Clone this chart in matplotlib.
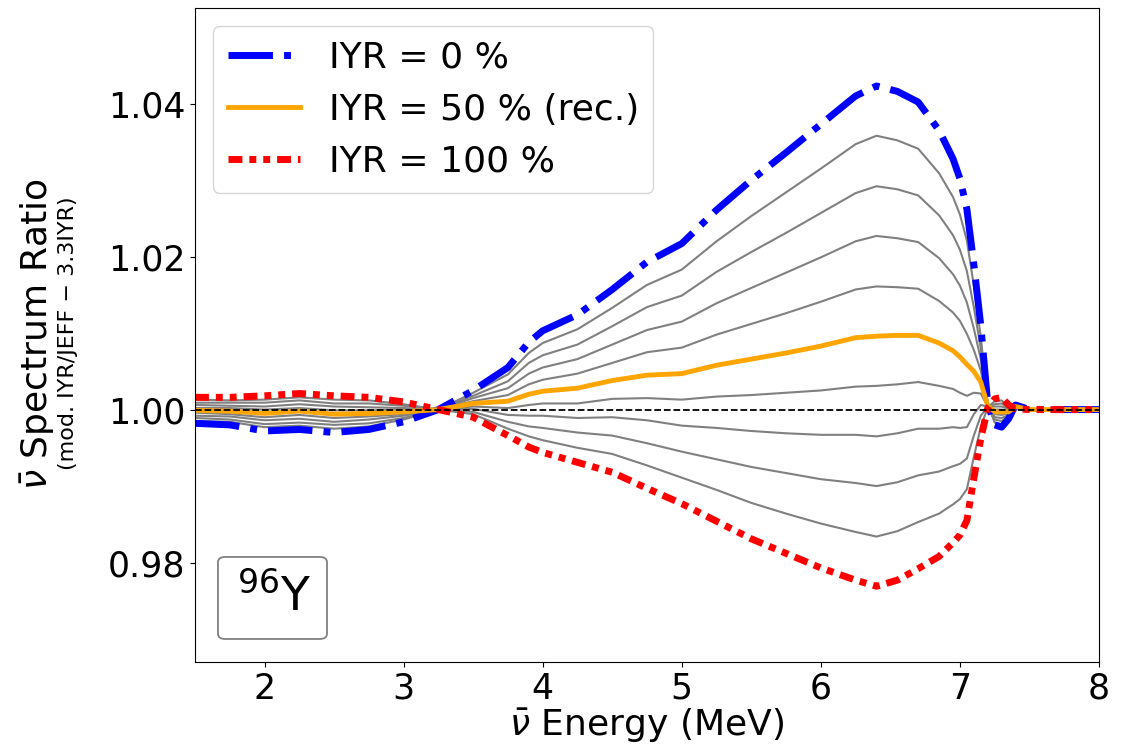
import numpy as np
import matplotlib
matplotlib.use('Agg')
import matplotlib.pyplot as plt
from matplotlib.patches import FancyBboxPatch

# antineutrino energy grid (MeV)
energy = [1.5, 1.75, 2.0, 2.25, 2.5, 2.75, 3.0, 3.25, 3.5, 3.75, 3.9, 4.0, 4.25, 4.5, 4.75,
          5.0, 5.25, 5.5, 5.75, 6.0, 6.25, 6.4, 6.55, 6.7, 6.85, 6.95, 7.0, 7.05, 7.1, 7.15,
          7.2, 7.25, 7.3, 7.35, 7.4, 7.5, 8.0]

# spectrum ratio for each isomeric yield ratio (IYR)
ratio_iyr_0 = [0.9982, 0.9980, 0.9972, 0.9974, 0.9970, 0.9974, 0.9984, 1.0000, 1.0025, 1.0055,
               1.0088, 1.0103, 1.0124, 1.0157, 1.0193, 1.0217, 1.0261, 1.0300, 1.0336, 1.0373,
               1.0410, 1.0423, 1.0416, 1.0402, 1.0365, 1.0328, 1.0302, 1.0262, 1.0190, 1.0110,
               1.0008, 0.9980, 0.9977, 0.9988, 1.0006, 1.0000, 1.0000]
ratio_iyr_10 = [0.9985, 0.9984, 0.9977, 0.9979, 0.9975, 0.9978, 0.9987, 1.0000, 1.0022, 1.0046,
                1.0074, 1.0087, 1.0105, 1.0133, 1.0163, 1.0183, 1.0220, 1.0253, 1.0284, 1.0315,
                1.0347, 1.0358, 1.0352, 1.0341, 1.0309, 1.0278, 1.0255, 1.0221, 1.0162, 1.0095,
                1.0007, 0.9983, 0.9981, 0.9990, 1.0006, 1.0000, 1.0000]
ratio_iyr_20 = [0.9989, 0.9987, 0.9981, 0.9983, 0.9980, 0.9982, 0.9989, 1.0000, 1.0018, 1.0037,
                1.0061, 1.0071, 1.0085, 1.0109, 1.0134, 1.0149, 1.0180, 1.0206, 1.0231, 1.0257,
                1.0283, 1.0292, 1.0288, 1.0280, 1.0254, 1.0228, 1.0209, 1.0181, 1.0134, 1.0080,
                1.0007, 0.9987, 0.9985, 0.9992, 1.0005, 1.0000, 1.0000]
ratio_iyr_30 = [0.9992, 0.9991, 0.9986, 0.9988, 0.9984, 0.9987, 0.9992, 1.0000, 1.0015, 1.0028,
                1.0047, 1.0055, 1.0066, 1.0085, 1.0104, 1.0115, 1.0139, 1.0159, 1.0179, 1.0199,
                1.0220, 1.0227, 1.0224, 1.0219, 1.0198, 1.0177, 1.0162, 1.0140, 1.0106, 1.0066,
                1.0006, 0.9990, 0.9989, 0.9993, 1.0005, 1.0000, 1.0000]
ratio_iyr_40 = [0.9996, 0.9994, 0.9990, 0.9993, 0.9989, 0.9991, 0.9994, 1.0000, 1.0011, 1.0019,
                1.0033, 1.0039, 1.0047, 1.0061, 1.0075, 1.0081, 1.0098, 1.0112, 1.0126, 1.0141,
                1.0157, 1.0161, 1.0160, 1.0158, 1.0142, 1.0127, 1.0116, 1.0099, 1.0078, 1.0051,
                1.0006, 0.9994, 0.9993, 0.9995, 1.0004, 1.0000, 1.0000]
ratio_iyr_50 = [0.9999, 0.9998, 0.9995, 0.9998, 0.9994, 0.9995, 0.9997, 1.0000, 1.0008, 1.0011,
                1.0020, 1.0024, 1.0028, 1.0038, 1.0045, 1.0047, 1.0058, 1.0066, 1.0074, 1.0083,
                1.0094, 1.0096, 1.0097, 1.0097, 1.0087, 1.0077, 1.0069, 1.0059, 1.0050, 1.0036,
                1.0005, 0.9997, 0.9997, 0.9997, 1.0004, 1.0000, 1.0000]
ratio_iyr_60 = [1.0002, 1.0002, 1.0000, 1.0002, 0.9999, 0.9999, 1.0000, 1.0000, 1.0004, 1.0002,
                1.0006, 1.0008, 1.0008, 1.0014, 1.0015, 1.0013, 1.0017, 1.0019, 1.0022, 1.0025,
                1.0030, 1.0031, 1.0033, 1.0036, 1.0031, 1.0027, 1.0022, 1.0018, 1.0022, 1.0021,
                1.0004, 1.0000, 1.0000, 0.9999, 1.0003, 1.0000, 1.0000]
ratio_iyr_70 = [1.0006, 1.0005, 1.0004, 1.0007, 1.0004, 1.0003, 1.0002, 1.0000, 1.0001, 0.9993,
                0.9992, 0.9992, 0.9989, 0.9990, 0.9986, 0.9979, 0.9976, 0.9972, 0.9969, 0.9967,
                0.9967, 0.9965, 0.9969, 0.9975, 0.9975, 0.9977, 0.9976, 0.9977, 0.9994, 1.0006,
                1.0004, 1.0004, 1.0004, 1.0001, 1.0003, 1.0000, 1.0000]
ratio_iyr_80 = [1.0009, 1.0009, 1.0009, 1.0012, 1.0008, 1.0008, 1.0005, 1.0000, 0.9997, 0.9984,
                0.9978, 0.9976, 0.9970, 0.9966, 0.9956, 0.9945, 0.9935, 0.9925, 0.9917, 0.9909,
                0.9904, 0.9900, 0.9905, 0.9914, 0.9919, 0.9926, 0.9929, 0.9936, 0.9966, 0.9992,
                1.0003, 1.0007, 1.0008, 1.0002, 1.0002, 1.0000, 1.0000]
ratio_iyr_90 = [1.0013, 1.0012, 1.0013, 1.0016, 1.0013, 1.0012, 1.0007, 1.0000, 0.9994, 0.9975,
                0.9965, 0.9960, 0.9950, 0.9942, 0.9927, 0.9911, 0.9895, 0.9878, 0.9864, 0.9851,
                0.9840, 0.9834, 0.9841, 0.9853, 0.9864, 0.9876, 0.9883, 0.9896, 0.9938, 0.9977,
                1.0003, 1.0011, 1.0012, 1.0004, 1.0002, 1.0000, 1.0000]
ratio_iyr_100 = [1.0016, 1.0016, 1.0018, 1.0021, 1.0018, 1.0016, 1.0010, 1.0000, 0.9990, 0.9966,
                 0.9951, 0.9944, 0.9931, 0.9918, 0.9897, 0.9877, 0.9854, 0.9831, 0.9812, 0.9793,
                 0.9777, 0.9769, 0.9777, 0.9792, 0.9808, 0.9826, 0.9836, 0.9855, 0.9910, 0.9962,
                 1.0002, 1.0014, 1.0016, 1.0006, 1.0001, 1.0000, 1.0000]

gray_curves = [ratio_iyr_10, ratio_iyr_20, ratio_iyr_30, ratio_iyr_40,
               ratio_iyr_60, ratio_iyr_70, ratio_iyr_80, ratio_iyr_90]

x_ticks = [2, 3, 4, 5, 6, 7, 8]
y_ticks = [0.98, 1.00, 1.02, 1.04]

fig = plt.figure(figsize=(11.3, 7.46), dpi=100)
ax = fig.add_axes([195 / 1130, 1 - 662 / 746, 904 / 1130, 654 / 746])

for curve in gray_curves:
    ax.plot(energy, curve, color='gray', lw=1.5)

ax.plot(energy, ratio_iyr_0, color='blue', ls='-.', lw=5, label='IYR = 0 %')
ax.plot(energy, ratio_iyr_50, color='orange', lw=3.5, label='IYR = 50 % (rec.)')
ax.plot(energy, ratio_iyr_100, color='red', lw=5, dashes=(2, 1, 1, 1, 1, 1), label='IYR = 100 %')
ax.axhline(1.0, color='k', ls='--', lw=1.3)

ax.set_xlim(1.5, 8)
ax.set_ylim(0.967, 1.0525)
ax.set_xticks(x_ticks)
ax.set_yticks(y_ticks)
ax.set_yticklabels(['%.2f' % t for t in y_ticks])
ax.tick_params(labelsize=25)

ax.set_xlabel(r'$\bar{\nu}$ Energy (MeV)', fontsize=26, labelpad=1)
fig.text(38 / 1130, 1 - 334 / 746, r'$\bar{\nu}$ Spectrum Ratio', rotation=90,
         fontsize=26, ha='center', va='center')
fig.text(68 / 1130, 1 - 333 / 746, '(mod. IYR/JEFF \u2212 3.3IYR)', rotation=90,
         fontsize=16, ha='center', va='center')

ax.legend(loc='upper left', fontsize=26, handlelength=2.0)

# nuclide label box
ax.add_patch(FancyBboxPatch((0.0254, 0.0352), 0.1206, 0.1254, transform=ax.transAxes,
                            boxstyle='round,pad=0,rounding_size=0.008',
                            fc='white', ec='gray', lw=1.3, zorder=5))
ax.text(0.0465, 0.0795, r'$^{96}$Y', transform=ax.transAxes, fontsize=34,
        ha='left', va='baseline', zorder=6)

fig.savefig('out.png', dpi=100)
